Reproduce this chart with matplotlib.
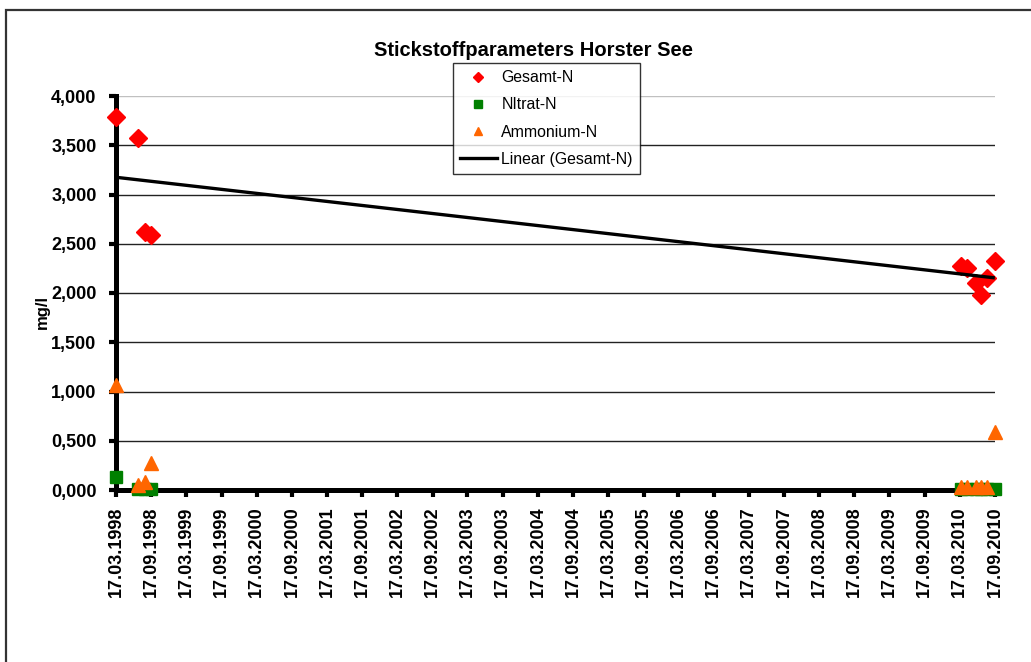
import numpy as np
import matplotlib
matplotlib.use("Agg")
import matplotlib.pyplot as plt
import matplotlib.dates as mdates
from matplotlib.lines import Line2D
from matplotlib.patches import Rectangle
from datetime import datetime

plt.rcParams['font.family'] = ['Liberation Sans', 'DejaVu Sans']

# sample dates and measured values (mg/l)
sample_dates = ['17.03.1998', '07.07.1998', '16.08.1998', '17.09.1998',
                '22.03.2010', '26.04.2010', '08.06.2010', '04.07.2010',
                '08.08.2010', '16.09.2010']
gesamt_n = [3.79, 3.57, 2.62, 2.59, 2.27, 2.25, 2.10, 1.98, 2.15, 2.32]
nitrat_n = [0.135, 0.01, 0.01, 0.01, 0.01, 0.01, 0.01, 0.01, 0.01, 0.01]
ammonium_n = [1.07, 0.05, 0.08, 0.27, 0.03, 0.03, 0.03, 0.03, 0.03, 0.59]

tick_labels = ['17.03.1998', '17.09.1998', '17.03.1999', '17.09.1999',
               '17.03.2000', '17.09.2000', '17.03.2001', '17.09.2001',
               '17.03.2002', '17.09.2002', '17.03.2003', '17.09.2003',
               '17.03.2004', '17.09.2004', '17.03.2005', '17.09.2005',
               '17.03.2006', '17.09.2006', '17.03.2007', '17.09.2007',
               '17.03.2008', '17.09.2008', '17.03.2009', '17.09.2009',
               '17.03.2010', '17.09.2010']
y_ticks = [0, 0.5, 1.0, 1.5, 2.0, 2.5, 3.0, 3.5, 4.0]

x = mdates.date2num([datetime.strptime(d, '%d.%m.%Y') for d in sample_dates])
xt = mdates.date2num([datetime.strptime(d, '%d.%m.%Y') for d in tick_labels])

# linear trend of Gesamt-N
k, d = np.polyfit(x, gesamt_n, 1)
xtr = np.array([x.min(), x.max()])

fig = plt.figure(figsize=(10.31, 6.62), dpi=100)
ax = fig.add_axes([116/1031, 1-490/662, (995-116)/1031, (490-96)/662])

ax.set_xlim(xt[0], xt[-1])
ax.set_ylim(0, 4)

ax.set_yticks(y_ticks)
ax.set_yticklabels([('%.3f' % v).replace('.', ',') for v in y_ticks])
ax.set_xticks(xt)
ax.set_xticklabels(tick_labels, rotation=90)

for lab in ax.get_xticklabels() + ax.get_yticklabels():
    lab.set_fontweight('bold')
    lab.set_fontsize(13)

ax.grid(axis='y', color='#222222', lw=1.0, zorder=0)
ax.get_ygridlines()[-1].set_color('#c0c0c0')
ax.set_axisbelow(True)

for s in ['top', 'right']:
    ax.spines[s].set_visible(False)
ax.spines['left'].set_linewidth(3.6)
ax.spines['bottom'].set_linewidth(3.6)
ax.spines['left'].set_zorder(2)
ax.spines['bottom'].set_zorder(2)
ax.tick_params(axis='y', length=5, width=3, pad=9)
ax.tick_params(axis='x', length=5, width=3, pad=7)

ax.plot(x, gesamt_n, 'D', color='#ff0000', ms=9, mec='#ff0000', clip_on=False, zorder=4)
ax.plot(x, nitrat_n, 's', color='#008000', ms=9, clip_on=False, zorder=5)
ax.plot(x, ammonium_n, '^', color='#ff6600', ms=10, clip_on=False, zorder=6)
ax.plot(xtr, k*xtr + d, color='black', lw=2.4, zorder=7, solid_capstyle='butt')

fig.text(533/1031, 1-50/662, 'Stickstoffparameters Horster See', ha='center', va='center',
         fontsize=14.5, fontweight='bold')
fig.text(42/1031, 1-312/662, 'mg/l', rotation=90, ha='center', va='center',
         fontsize=12, fontweight='bold')

handles = [Line2D([], [], ls='none', marker='D', color='#ff0000', ms=5),
           Line2D([], [], ls='none', marker='s', color='#008000', ms=6),
           Line2D([], [], ls='none', marker='^', color='#ff6600', ms=6),
           Line2D([], [], color='black', lw=2.4)]
leg = fig.legend(handles, ['Gesamt-N', 'NItrat-N', 'Ammonium-N', 'Linear (Gesamt-N)'],
                 loc='upper left', bbox_to_anchor=(453/1031, 1-63/662), borderaxespad=0,
                 fontsize=11.4, frameon=True, fancybox=False, edgecolor='black',
                 handlelength=2.3, handletextpad=0.3, labelspacing=0.77,
                 borderpad=0.45)
leg.get_frame().set_linewidth(1.0)

# outer chart border (cut by the image edges)
fig.patches.append(Rectangle((6/1031, -0.2), 1.2, 1.2 - 10/662, transform=fig.transFigure,
                             fill=False, edgecolor='#333333', lw=1.6))

fig.savefig('out.png', dpi=100)
